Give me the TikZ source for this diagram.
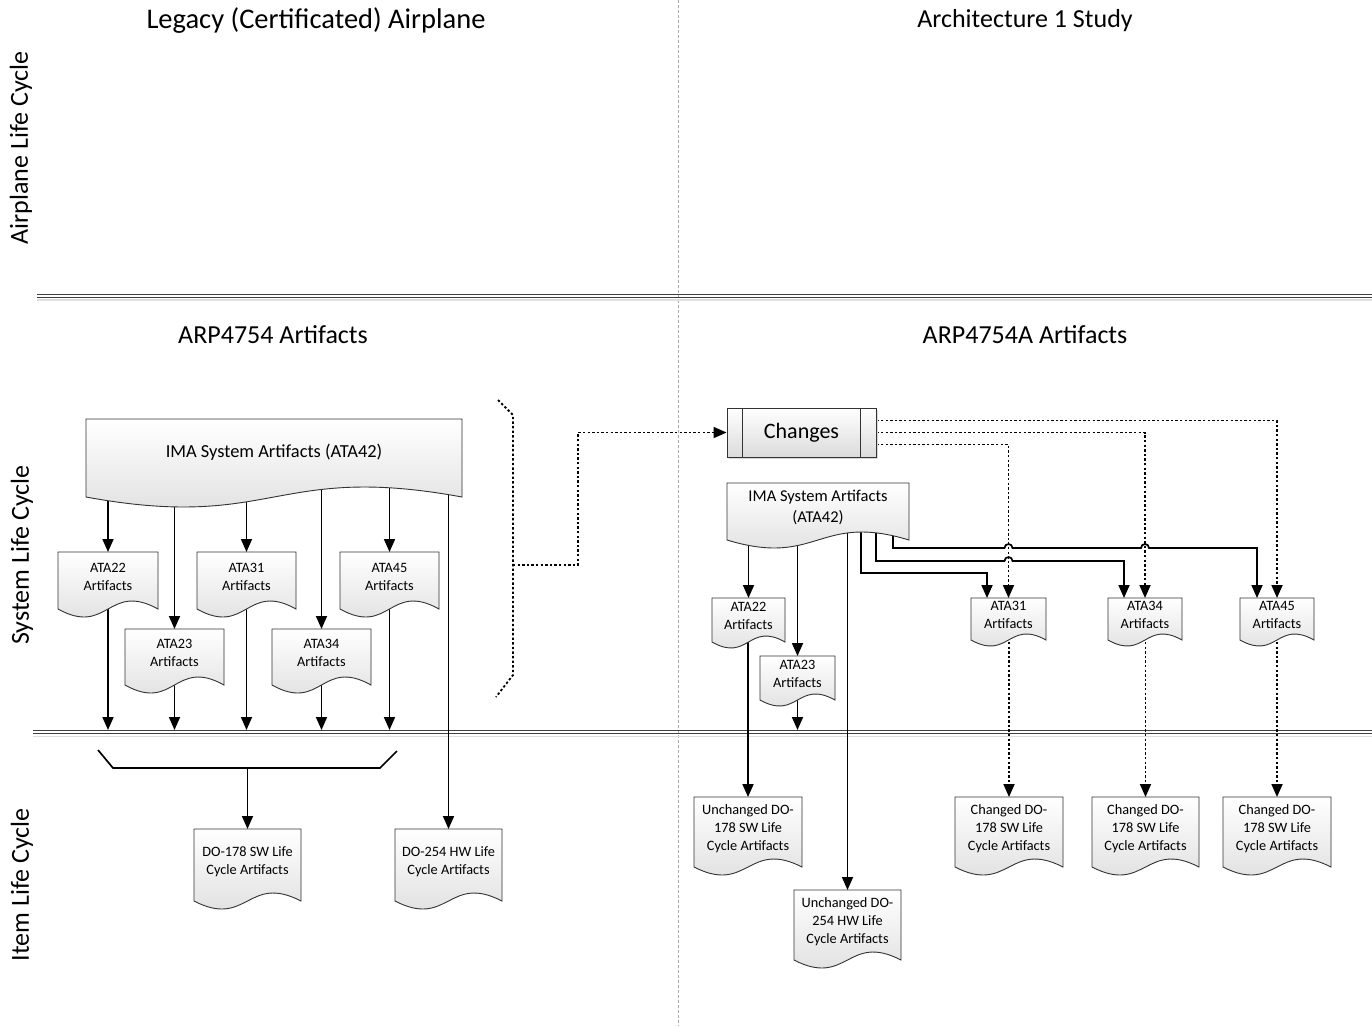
\documentclass[tikz,border=0pt]{standalone}
\usepackage{fontspec}
\setmainfont{Carlito}
\usetikzlibrary{arrows.meta,calc}
\pgfdeclarelayer{bg}
\pgfdeclarelayer{shp}
\pgfsetlayers{bg,shp,main}
\newcommand\docpath[3]{%
  \path[#3] let \p1=(#1.north west), \p2=(#1.south east) in
  (\x1,\y1) -- (\x2,\y1) -- (\x2,\y2)
  .. controls ({0.5*\x1+0.5*\x2},{\y2+3.46pt*#2}) and ({0.5*\x1+0.5*\x2},{\y2-3.46pt*#2}) .. (\x1,\y2) -- cycle;}
\begin{document}
\begin{tikzpicture}[x=1pt,y=-1pt,
  docnode/.style 2 args={minimum width=#1pt, minimum height=#2pt, inner sep=0pt, outer sep=0pt, align=center, text depth=8pt, font=\fontsize{14.3pt}{17.8pt}\selectfont},
  cyc/.style={text depth=9pt},
  title/.style={font=\fontsize{26pt}{30pt}\selectfont, inner sep=0pt},
  tip/.style={-{Triangle[length=13pt,width=11pt]}},
  conn/.style={line width=1.7pt, tip},
  dotline/.style={line width=1.8pt, dash pattern=on 2.4pt off 2.2pt},
  dotconn/.style={dotline, tip},
  laneline/.style={line width=0.9pt, black!75},
  shapeline/.style={draw=black!80, line width=0.9pt, top color=white, bottom color=gray!28},
  shadowfill/.style={fill=black!15, shift={(2pt,-2pt)}}]
\useasboundingbox (0,0) rectangle (1372,1026);
% titles
\node[title, font=\fontsize{28.5pt}{32pt}\selectfont] (tL) at (316,21) {Legacy (Certificated) Airplane};
\node[title] (tR) at (1025,21) {Architecture 1 Study};
\node[title] (sL) at (273,335) {ARP4754 Artifacts};
\node[title] (sR) at (1025,335) {ARP4754A Artifacts};
\node[title, rotate=90] (l1) at (21,148) {Airplane Life Cycle};
\node[title, rotate=90] (l2) at (22,555) {System Life Cycle};
\node[title, rotate=90] (l3) at (22,885) {Item Life Cycle};
% left documents
\node[docnode={376}{78}, text depth=14pt, font=\fontsize{18.4pt}{22pt}\selectfont] (imaL) at (274,458) {IMA System Artifacts (ATA42)};
\node[docnode={100}{57}] (ata22L) at (108,580.5) {ATA22\\Artifacts};
\node[docnode={99}{56}] (ata23L) at (174.5,657) {ATA23\\Artifacts};
\node[docnode={99}{57}] (ata31L) at (246.5,580.5) {ATA31\\Artifacts};
\node[docnode={99}{56}] (ata34L) at (321.5,657) {ATA34\\Artifacts};
\node[docnode={99}{57}] (ata45L) at (389.5,580.5) {ATA45\\Artifacts};
\node[docnode={107}{72}, cyc] (do178L) at (247.5,865) {DO-178 SW Life\\Cycle Artifacts};
\node[docnode={107}{72}, cyc] (do254L) at (448.5,865) {DO-254 HW Life\\Cycle Artifacts};
% right documents
\node[draw=black!80, line width=0.9pt, top color=white, bottom color=gray!28, minimum width=149pt, minimum height=49pt, inner sep=0pt, font=\fontsize{22pt}{26pt}\selectfont] (chg) at (801.5,432.5) {Changes};
\node[docnode={182}{57}, text depth=10pt, font=\fontsize{16.5pt}{21pt}\selectfont] (imaR) at (818,511.5) {IMA System Artifacts\\(ATA42)};
\node[docnode={73}{44}] (ata22R) at (748.5,620) {ATA22\\Artifacts};
\node[docnode={75}{44}] (ata23R) at (797.5,678) {ATA23\\Artifacts};
\node[docnode={75}{42}] (ata31R) at (1008.5,619) {ATA31\\Artifacts};
\node[docnode={74}{42}] (ata34R) at (1145,619) {ATA34\\Artifacts};
\node[docnode={74}{42}] (ata45R) at (1277,619) {ATA45\\Artifacts};
\node[docnode={108}{70}, cyc] (unc178) at (748,832) {Unchanged DO-\\178 SW Life\\Cycle Artifacts};
\node[docnode={107}{70}, cyc] (unc254) at (847.5,925) {Unchanged DO-\\254 HW Life\\Cycle Artifacts};
\node[docnode={108}{70}, cyc] (chg1) at (1009,832) {Changed DO-\\178 SW Life\\Cycle Artifacts};
\node[docnode={107}{70}, cyc] (chg2) at (1145.5,832) {Changed DO-\\178 SW Life\\Cycle Artifacts};
\node[docnode={108}{70}, cyc] (chg3) at (1277,832) {Changed DO-\\178 SW Life\\Cycle Artifacts};
% helper coordinates
\coordinate (laneB) at (0,730);
\coordinate (bL1) at (98,750);
\coordinate (bL2) at (113,768);
\coordinate (bR2) at (380,768);
\coordinate (bR1) at (397,751);
\coordinate (d1) at (498,400);
\coordinate (d2) at (513,415);
\coordinate (d3) at (513,675);
\coordinate (d4) at (496,697);
\coordinate (dm) at (513,565);
\coordinate (dk) at (578,565);
\coordinate (r31) at (0,573);
\coordinate (r34) at (0,561);
\coordinate (r45) at (0,548);
\coordinate (s31) at ([xshift=43pt]imaR.center);
\coordinate (s34) at ([xshift=58pt]imaR.center);
\coordinate (s45) at ([xshift=75pt]imaR.center);
\coordinate (e31) at ([xshift=-21.5pt]ata31R.north);
\coordinate (e34) at ([xshift=-21pt]ata34R.north);
\coordinate (e45) at ([xshift=-20pt]ata45R.north);
\begin{pgfonlayer}{bg}
\fill[white] (0,0) rectangle (1372,1026);
% lanes
\draw[gray!65, line width=0.8pt, dash pattern=on 3pt off 2pt] (678,0) -- (678,1026);
\draw[gray!25, line width=1.5pt] (37,300) -- (1372,300);
\draw[laneline] (37,294) -- (1372,294);
\draw[laneline] (37,297.5) -- (1372,297.5);
\draw[gray!25, line width=1.5pt] (33,736.5) -- (1372,736.5);
\draw[laneline] (33,730) -- (1372,730);
\draw[laneline] (33,733.5) -- (1372,733.5);
% left connectors
\foreach \t in {ata22L,ata23L,ata31L,ata34L,ata45L,do254L}
  \draw[conn] (imaL.center -| \t.north) -- (\t.north);
\foreach \t in {ata22L,ata23L,ata31L,ata34L,ata45L}
  \draw[conn] (\t.center) -- (\t.center |- laneB);
\draw[line width=1.7pt] (bL1) -- (bL2) -- (bR2) -- (bR1);
\draw[conn] (do178L.north |- bL2) -- (do178L.north);
\draw[dotline] (d1) -- (d2) -- (d3) -- (d4);
\draw[dotconn] (dm) -- (dk) |- (chg.west);
% right connectors
\draw[dotconn] ([yshift=12pt]chg.east) -| (ata45R.north);
\draw[dotconn] (chg.east) -| (ata34R.north);
\draw[dotconn] ([yshift=-12pt]chg.east) -| (ata31R.north);
\draw[conn] (imaR.center -| ata22R.north) -- (ata22R.north);
\draw[conn] (imaR.center -| ata23R.north) -- (ata23R.north);
\draw[conn] (imaR.center -| unc254.north) -- (unc254.north);
\draw[conn] (s31) -- (s31 |- r31) -| (e31);
\draw[conn] (s34) -- (s34 |- r34) -- ($(ata31R.north |- r34)+(-4pt,0)$)
  arc[start angle=180, end angle=0, radius=4pt] -| (e34);
\draw[conn] (s45) -- (s45 |- r45) -- ($(ata31R.north |- r45)+(-4pt,0)$)
  arc[start angle=180, end angle=0, radius=4pt] -- ($(ata34R.north |- r45)+(-4pt,0)$)
  arc[start angle=180, end angle=0, radius=4pt] -| (e45);
\draw[conn] (unc178.north |- ata22R.center) -- (unc178.north);
\draw[conn] (ata23R.center) -- (ata23R.center |- laneB);
\draw[dotconn] (chg1.north |- ata31R.center) -- (chg1.north);
\draw[dotconn] (chg2.north |- ata34R.center) -- (chg2.north);
\draw[dotconn] (chg3.north |- ata45R.center) -- (chg3.north);
\end{pgfonlayer}
\begin{pgfonlayer}{shp}
\foreach \dn/\da in {imaL/10,ata22L/8,ata23L/8,ata31L/8,ata34L/8,ata45L/8,do178L/8,do254L/8,
  imaR/8,ata22R/6,ata23R/6,ata31R/6,ata34R/6,ata45R/6,unc178/8,unc254/8,chg1/8,chg2/8,chg3/8}{
  \docpath{\dn}{\da}{shadowfill}
  \docpath{\dn}{\da}{shapeline}
}
\fill[black!15] ([shift={(2pt,-2pt)}]chg.north west) rectangle ([shift={(2pt,-2pt)}]chg.south east);
\end{pgfonlayer}
\draw[black!80, line width=0.9pt] ([xshift=16pt]chg.north west) -- ([xshift=16pt]chg.south west);
\draw[black!80, line width=0.9pt] ([xshift=-16pt]chg.north east) -- ([xshift=-16pt]chg.south east);
\end{tikzpicture}
\end{document}
